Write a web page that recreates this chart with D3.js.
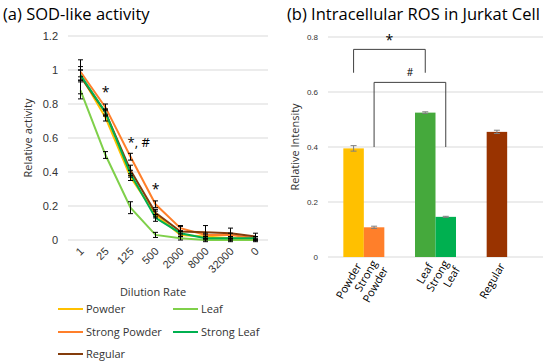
<!DOCTYPE html>
<html>
<head>
<meta charset="utf-8">
<style>
  body { margin: 0; background: #fff; }
  svg { font-family: "Open Sans", "Noto Sans", sans-serif; }
</style>
</head>
<body>
<svg id="chart" width="550" height="363"></svg>
<script src="https://d3js.org/d3.v7.min.js"></script>
<script>
// (a) SOD-like activity
var dilutions = ["1", "25", "125", "500", "2000", "8000", "32000", "0"];
var seriesNames = ["Powder", "Leaf", "Strong Powder", "Strong Leaf", "Regular"];
var powder       = [0.97, 0.72, 0.37, 0.15, 0.03, 0.02, 0.01, 0.01];
var leaf         = [0.88, 0.50, 0.19, 0.03, 0.01, 0.00, 0.00, 0.00];
var strongPowder = [0.99, 0.78, 0.49, 0.21, 0.07, 0.03, 0.03, 0.01];
var strongLeaf   = [0.97, 0.75, 0.39, 0.13, 0.04, 0.01, 0.01, 0.01];
var regular      = [0.96, 0.75, 0.41, 0.16, 0.05, 0.045, 0.04, 0.02];
var powderErr       = [0.03, 0.02, 0.02, 0.02, 0.01, 0.01, 0.01, 0.01];
var leafErr         = [0.05, 0.02, 0.035, 0.015, 0.01, 0.01, 0.01, 0.01];
var strongPowderErr = [0.03, 0.02, 0.02, 0.02, 0.015, 0.01, 0.01, 0.01];
var strongLeafErr   = [0.03, 0.02, 0.02, 0.02, 0.01, 0.01, 0.01, 0.01];
var regularErr      = [0.1, 0.02, 0.03, 0.02, 0.03, 0.04, 0.03, 0.02];
var sodTicks = [0, 0.2, 0.4, 0.6, 0.8, 1, 1.2];

// (b) Intracellular ROS
var rosGroups = ["Powder", "Leaf", "Regular"];
var rosLabels = [["Powder"], ["Strong", "Powder"], ["Leaf"], ["Strong", "Leaf"], ["Regular"]];
var rosValues = [0.395, 0.108, 0.525, 0.146, 0.455];
var rosErr    = [0.01, 0.004, 0.003, 0.002, 0.006];
var rosTicks = [0, 0.2, 0.4, 0.6, 0.8];

var lineColors = ["#FFC000", "#7FD04A", "#FF7F2A", "#00B050", "#843C0C"];
var barColors = ["#FFC000", "#FF7F2A", "#45A93C", "#00B050", "#993300"];

var svg = d3.select("#chart");
var gridColor = "#d9d9d9";

// ---------- left chart ----------
var x1 = d3.scaleBand().domain(dilutions).range([68, 268]);
var y1 = d3.scaleLinear().domain([0, 1.2]).range([240, 36]);
var cx = function(d) { return x1(d) + x1.bandwidth() / 2; };

svg.append("text").attr("x", 3).attr("y", 20)
  .attr("font-size", 16.5).attr("fill", "#000").text("(a) SOD-like activity");

var ga = svg.append("g");
ga.selectAll("line.grid").data(sodTicks).join("line")
  .attr("x1", 68).attr("x2", 268)
  .attr("y1", function(d) { return y1(d); }).attr("y2", function(d) { return y1(d); })
  .attr("stroke", gridColor).attr("stroke-width", 1);

var yAxis1 = svg.append("g").attr("transform", "translate(68,0)")
  .call(d3.axisLeft(y1).tickValues(sodTicks).tickSize(0).tickPadding(10).tickFormat(d3.format("")));
yAxis1.select(".domain").remove();
yAxis1.selectAll("text").attr("font-size", 11).attr("fill", "#333").style("font-family", "inherit");

var xAxis1 = svg.append("g").attr("transform", "translate(0,240)")
  .call(d3.axisBottom(x1).tickSize(0).tickPadding(0));
xAxis1.select(".domain").remove();
xAxis1.selectAll("text")
  .attr("font-size", 11).attr("fill", "#333").style("font-family", "inherit")
  .attr("text-anchor", "end").attr("dy", null).attr("y", 0)
  .attr("transform", "translate(4,12) rotate(-45)");

svg.append("text").attr("transform", "translate(32,138) rotate(-90)")
  .attr("text-anchor", "middle").attr("font-size", 11).attr("fill", "#333")
  .text("Relative activity");
svg.append("text").attr("x", 153).attr("y", 296)
  .attr("text-anchor", "middle").attr("font-size", 11).attr("fill", "#333")
  .text("Dilution Rate");

var allSeries = [powder, leaf, strongPowder, strongLeaf, regular];
var allErr = [powderErr, leafErr, strongPowderErr, strongLeafErr, regularErr];
var line1 = d3.line().x(function(d, i) { return cx(dilutions[i]); }).y(function(d) { return y1(d); });
// draw order: leaf, powder, strong powder, regular, strong leaf
[1, 0, 2, 4, 3].forEach(function(s) {
  ga.append("path").datum(allSeries[s])
    .attr("fill", "none").attr("stroke", lineColors[s]).attr("stroke-width", 2)
    .attr("d", line1);
});
allSeries.forEach(function(vals, s) {
  var eb = ga.append("g").attr("stroke", "#000").attr("stroke-width", 1);
  vals.forEach(function(v, i) {
    var px = cx(dilutions[i]);
    var e = allErr[s][i];
    eb.append("line").attr("x1", px).attr("x2", px).attr("y1", y1(v - e)).attr("y2", y1(v + e));
    eb.append("line").attr("x1", px - 2.5).attr("x2", px + 2.5).attr("y1", y1(v - e)).attr("y2", y1(v - e));
    eb.append("line").attr("x1", px - 2.5).attr("x2", px + 2.5).attr("y1", y1(v + e)).attr("y2", y1(v + e));
  });
});

svg.append("text").attr("x", cx("25")).attr("y", y1(0.84)).attr("text-anchor", "middle")
  .attr("font-size", 14).text("*");
svg.append("text").attr("x", cx("125") - 3).attr("y", y1(0.55)).attr("text-anchor", "start")
  .attr("font-size", 13).text("*, #");
svg.append("text").attr("x", cx("500")).attr("y", y1(0.27)).attr("text-anchor", "middle")
  .attr("font-size", 14).text("*");

// legend
var legendPos = [[58, 309], [173, 309], [58, 332], [173, 332], [58, 354]];
seriesNames.forEach(function(name, s) {
  var p = legendPos[s];
  svg.append("line").attr("x1", p[0]).attr("x2", p[0] + 25).attr("y1", p[1]).attr("y2", p[1])
    .attr("stroke", lineColors[s]).attr("stroke-width", 2);
  svg.append("text").attr("x", p[0] + 28).attr("y", p[1] + 4)
    .attr("font-size", 11).attr("fill", "#333").text(name);
});

// ---------- right chart ----------
var x2 = d3.scaleBand().domain(rosGroups).range([328, 543]);
var sub = d3.scaleBand().domain([0, 1]).range([x2.bandwidth() / 2 - 20.5, x2.bandwidth() / 2 + 20.5]);
var y2 = d3.scaleLinear().domain([0, 0.8]).range([257, 37]);
var barIdx = [[0, 0], [0, 1], [1, 0], [1, 1], [2, 0]];
var barX = function(i) { return x2(rosGroups[barIdx[i][0]]) + sub(barIdx[i][1]); };
var barC = function(i) { return barX(i) + sub.bandwidth() / 2; };

svg.append("text").attr("x", 287).attr("y", 20)
  .attr("font-size", 16.5).attr("fill", "#000").text("(b) Intracellular ROS in Jurkat Cell");

var gb = svg.append("g");
gb.selectAll("line.grid").data(rosTicks).join("line")
  .attr("x1", 328).attr("x2", 543)
  .attr("y1", function(d) { return y2(d); }).attr("y2", function(d) { return y2(d); })
  .attr("stroke", gridColor).attr("stroke-width", 1);

var yAxis2 = svg.append("g").attr("transform", "translate(328,0)")
  .call(d3.axisLeft(y2).tickValues(rosTicks).tickSize(0).tickPadding(10).tickFormat(d3.format("")));
yAxis2.select(".domain").remove();
yAxis2.selectAll("text").attr("font-size", 8).attr("fill", "#333").style("font-family", "inherit");

svg.append("text").attr("transform", "translate(299,147) rotate(-90)")
  .attr("text-anchor", "middle").attr("font-size", 11).attr("fill", "#333")
  .text("Relative Intensity");

gb.selectAll("rect.bar").data(rosValues).join("rect")
  .attr("x", function(d, i) { return barX(i); })
  .attr("width", sub.bandwidth())
  .attr("y", function(d) { return y2(d); })
  .attr("height", function(d) { return y2(0) - y2(d); })
  .attr("fill", function(d, i) { return barColors[i]; });

rosValues.forEach(function(v, i) {
  var px = barC(i), e = rosErr[i];
  var eb = gb.append("g").attr("stroke", "#7f7f7f").attr("stroke-width", 1);
  eb.append("line").attr("x1", px).attr("x2", px).attr("y1", y2(v - e)).attr("y2", y2(v + e));
  eb.append("line").attr("x1", px - 3).attr("x2", px + 3).attr("y1", y2(v - e)).attr("y2", y2(v - e));
  eb.append("line").attr("x1", px - 3).attr("x2", px + 3).attr("y1", y2(v + e)).attr("y2", y2(v + e));
});

// significance brackets
function bracket(i, j, top, bottom, label, gap) {
  var a = barC(i), b = barC(j);
  svg.append("path")
    .attr("d", "M" + a + "," + y2(bottom) + "V" + y2(top) + "H" + b + "V" + y2(bottom))
    .attr("fill", "none").attr("stroke", "#404040").attr("stroke-width", 1);
  svg.append("text").attr("x", (a + b) / 2).attr("y", y2(top) - gap)
    .attr("text-anchor", "middle").attr("font-size", label === "*" ? 14 : 10).attr("fill", "#000")
    .text(label);
}
bracket(0, 2, 0.755, 0.67, "*", 4);
bracket(1, 3, 0.635, 0.4, "#", 6);

// x labels
rosLabels.forEach(function(lines, i) {
  var t = svg.append("text")
    .attr("transform", "translate(" + (barC(i) + 5) + ",264) rotate(-60)")
    .attr("text-anchor", "end").attr("font-size", 11).attr("fill", "#000");
  lines.forEach(function(l, k) {
    t.append("tspan").attr("x", 0)
      .attr("dy", k === 0 ? (lines.length === 2 ? "-0.15em" : "0.35em") : "1.15em")
      .text(l);
  });
});
</script>
</body>
</html>
